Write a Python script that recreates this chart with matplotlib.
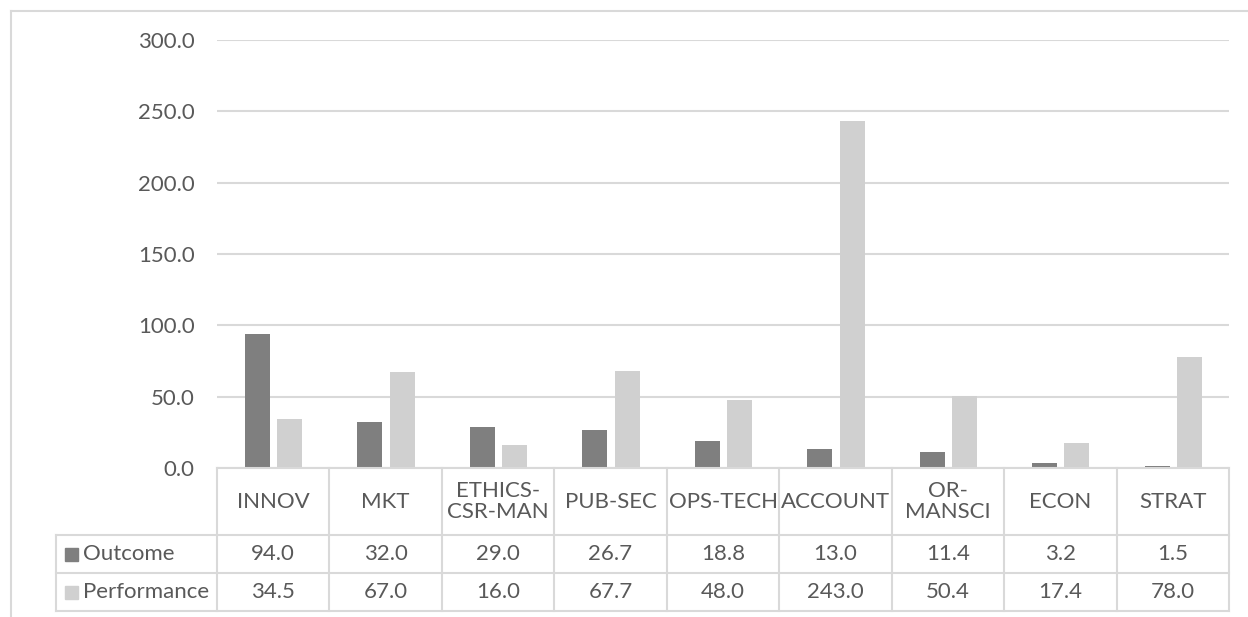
import matplotlib
matplotlib.use("Agg")
import matplotlib.pyplot as plt
from matplotlib.transforms import blended_transform_factory
from matplotlib.lines import Line2D
from matplotlib.patches import Rectangle

categories = ["INNOV", "MKT", "ETHICS-\nCSR-MAN", "PUB-SEC", "OPS-TECH",
              "ACCOUNT", "OR-\nMANSCI", "ECON", "STRAT"]
outcome = [94.0, 32.0, 29.0, 26.7, 18.8, 13.0, 11.4, 3.2, 1.5]
performance = [34.5, 67.0, 16.0, 67.7, 48.0, 243.0, 50.4, 17.4, 78.0]
series_names = ["Outcome", "Performance"]
yticks = [0, 50, 100, 150, 200, 250, 300]

DARK = "#7f7f7f"
LIGHT = "#d0d0d0"
TEXT = "#595959"
LINE = "#d9d9d9"
FONT = "Lato"
FS = 16

W, H = 1248, 617
fig = plt.figure(figsize=(W / 100, H / 100), dpi=100)
plt.rcParams["font.family"] = [FONT, "DejaVu Sans"]


def fx(px):
    return px / W


def fy(py):
    return (H - py) / H


ax_left, ax_right, ax_top, ax_bottom = 217, 1229, 40, 468
ax = fig.add_axes([fx(ax_left), fy(ax_bottom), fx(ax_right - ax_left),
                   fy(ax_top) - fy(ax_bottom)])

n = len(categories)
xs = list(range(n))
bw = 0.222
ax.bar([x - 0.14 for x in xs], outcome, width=bw, color=DARK, zorder=3)
ax.bar([x + 0.148 for x in xs], performance, width=bw, color=LIGHT, zorder=3)

ax.set_xlim(-0.5, n - 0.5)
ax.set_ylim(0, 300)
ax.set_yticks(yticks)
ax.set_yticklabels([f"{v:.1f}" for v in yticks], fontsize=FS, color=TEXT)
ax.tick_params(axis="y", length=0, pad=16)
ax.set_xticks([])
for s in ax.spines.values():
    s.set_visible(False)
ax.yaxis.grid(True, color=LINE, linewidth=1.5, zorder=0)
ax.set_axisbelow(True)

# outer chart frame
fig.add_artist(Line2D([fx(11), fx(11)], [fy(11), 0], color=LINE, lw=1.5))
fig.add_artist(Line2D([fx(11), 1], [fy(11), fy(11)], color=LINE, lw=1.5))

# data table below the plot
tr = blended_transform_factory(ax.transData, fig.transFigure)
row_hdr_top, row1_top, row2_top, row2_bot = 468, 535, 573, 611
tbl_left = 56

# horizontal rules
fig.add_artist(Line2D([fx(ax_left), fx(ax_right)], [fy(row_hdr_top)] * 2,
                      color=LINE, lw=1.5))
for yy in (row1_top, row2_top, row2_bot):
    fig.add_artist(Line2D([fx(tbl_left), fx(ax_right)], [fy(yy)] * 2,
                          color=LINE, lw=1.5))
# vertical rules between category columns
for i in range(n + 1):
    ax.add_line(Line2D([i - 0.5, i - 0.5], [fy(row_hdr_top), fy(row2_bot)],
                       transform=tr, color=LINE, lw=1.5, clip_on=False))
fig.add_artist(Line2D([fx(tbl_left)] * 2, [fy(row1_top), fy(row2_bot)],
                      color=LINE, lw=1.5))

# header text
for i, c in enumerate(categories):
    ax.text(i, fy((row_hdr_top + row1_top) / 2), c, transform=tr,
            ha="center", va="center", fontsize=FS, color=TEXT,
            linespacing=1.1, clip_on=False)

# value rows
rows = [(outcome, DARK, row1_top, row2_top), (performance, LIGHT, row2_top, row2_bot)]
for name, (vals, col, top, bot) in zip(series_names, rows):
    yc = (top + bot) / 2
    fig.add_artist(Rectangle((fx(65), fy(yc + 6.5)), fx(13), fy(yc - 6.5) - fy(yc + 6.5),
                             transform=fig.transFigure, color=col))
    fig.text(fx(83), fy(yc), name, ha="left", va="center", fontsize=FS, color=TEXT)
    for i, v in enumerate(vals):
        ax.text(i, fy(yc), f"{v:.1f}", transform=tr, ha="center", va="center",
                fontsize=FS, color=TEXT, clip_on=False)

fig.savefig("out.png", dpi=100, facecolor="white")
